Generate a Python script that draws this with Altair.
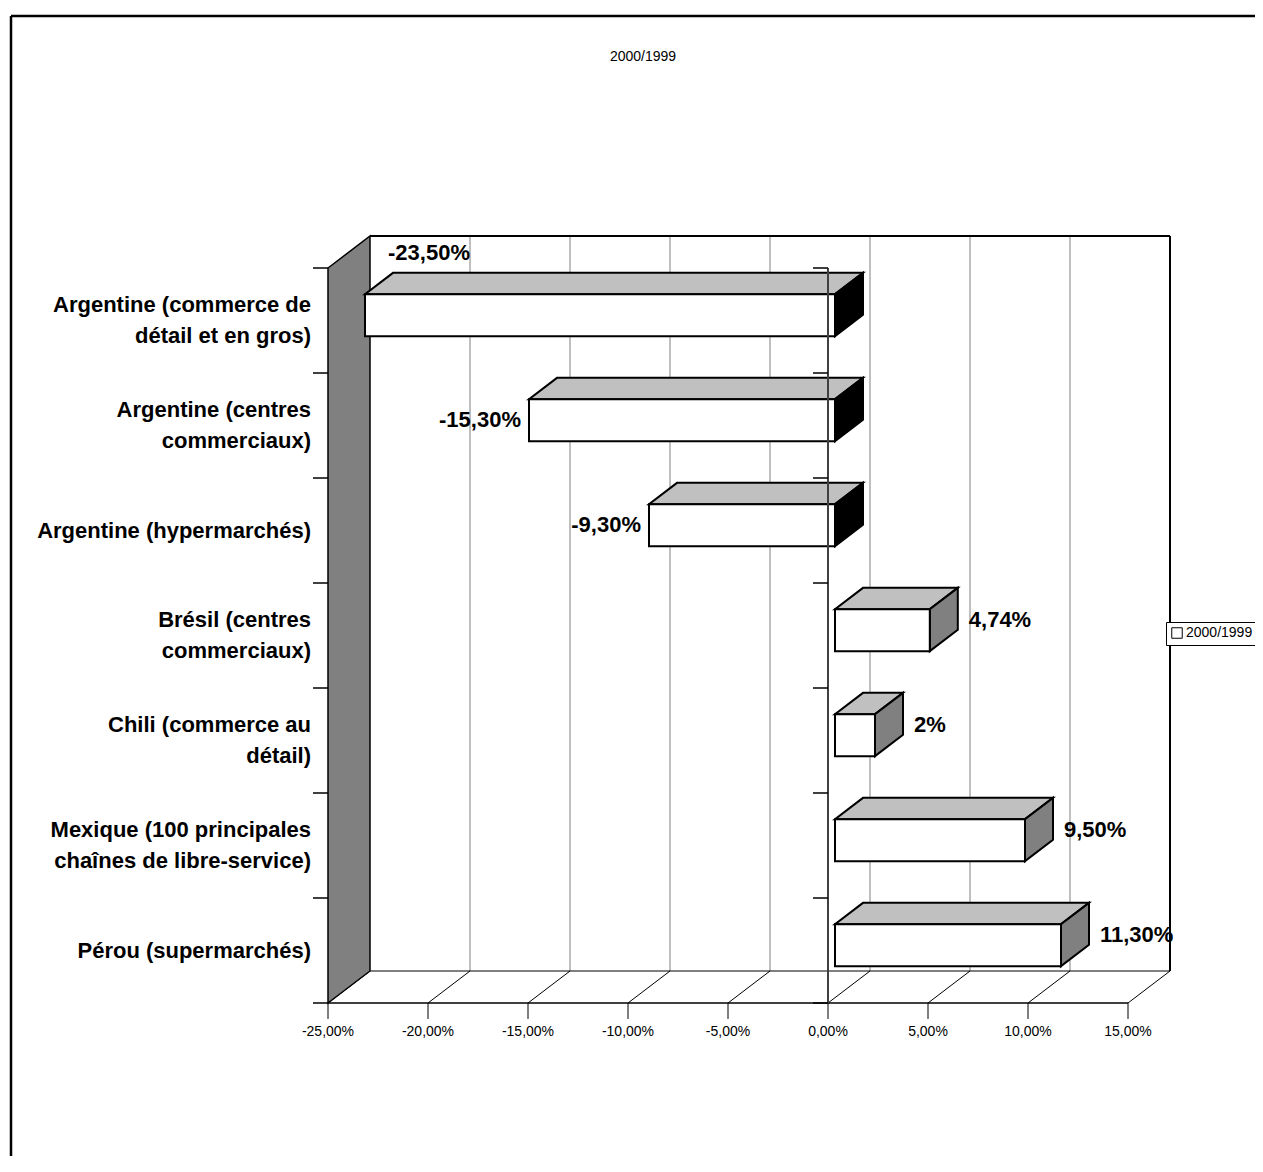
import altair as alt
import pandas as pd

# ---------------- data ----------------
categories = [
    "Argentine (commerce de\ndétail et en gros)",
    "Argentine (centres\ncommerciaux)",
    "Argentine (hypermarchés)",
    "Brésil (centres\ncommerciaux)",
    "Chili (commerce au\ndétail)",
    "Mexique (100 principales\nchaînes de libre-service)",
    "Pérou (supermarchés)",
]
values = [-23.5, -15.3, -9.3, 4.74, 2.0, 9.5, 11.3]
value_labels = ["-23,50%", "-15,30%", "-9,30%", "4,74%", "2%", "9,50%", "11,30%"]
tick_values = [-25, -20, -15, -10, -5, 0, 5, 10, 15]
tick_labels = ["-25,00%", "-20,00%", "-15,00%", "-10,00%", "-5,00%",
               "0,00%", "5,00%", "10,00%", "15,00%"]
series_name = "2000/1999"
title_text = "2000/1999"

# ---------------- geometry ----------------
FONT = "Liberation Sans"
W, H = 1244, 1140
PXU = 20                            # px per percentage point
PXB = 105                           # px per category band
X_DOMAIN = [-40.85, -40.85 + W / PXU]
Y_DOMAIN = [9.4 - H / PXB, 9.4]
DX = 42 / PXU                       # depth offset in x units
DU = 32 / PXB                       # depth offset in band units
F0, F1 = 1 / 6, 5 / 6               # bar depth fraction (front, back)
HALF = 0.2                          # half bar thickness (band units)
LINE_H = 31
n = len(categories)
XMIN, XMAX = tick_values[0], tick_values[-1]

xs = alt.Scale(domain=X_DOMAIN, nice=False, zero=False)
ys = alt.Scale(domain=Y_DOMAIN, nice=False, zero=False)


def X(f):
    return alt.X(f, type="quantitative", scale=xs, axis=None)


def Y(f):
    return alt.Y(f, type="quantitative", scale=ys, axis=None, stack=None)


# bars
front_rows, top_rows, side_rows, lab_rows, cat_rows = [], [], [], [], []
for i, (cat, v, lab) in enumerate(zip(categories, values, value_labels)):
    c = n - 0.5 - i
    x0, x1 = min(0, v), max(0, v)
    xf0, xf1 = x0 + DX * F0, x1 + DX * F0
    xb0, xb1 = x0 + DX * F1, x1 + DX * F1
    uTf, uBf = c + HALF + DU * F0, c - HALF + DU * F0
    uTb, uBb = c + HALF + DU * F1, c - HALF + DU * F1
    front_rows.append(dict(xf0=xf0, xf1=xf1, uTf=uTf, uBf=uBf, series=series_name))
    for (xx, lo, hi) in [(xf0, uTf, uTf), (xb0, uTf, uTb), (xf1, uTf, uTb), (xb1, uTb, uTb)]:
        top_rows.append(dict(id=i, x=xx, y=lo, y2=hi))
    sign = "neg" if v < 0 else "pos"
    for (xx, lo, hi) in [(xf1, uBf, uTf), (xb1, uBb, uTb)]:
        side_rows.append(dict(id=i, x=xx, y=lo, y2=hi, sign=sign))
    if v < 0 and v > XMIN + 5:
        lab_rows.append(dict(text=lab, lx=xf0 - 0.4, ly=c + 0.048, al="right"))
    elif v < 0:
        lab_rows.append(dict(text=lab, lx=xb0 - 0.25, ly=uTb + 0.19, al="left"))
    else:
        lab_rows.append(dict(text=lab, lx=xb1 + 0.55, ly=c + 0.143, al="left"))
    nlines = cat.count("\n") + 1
    cat_rows.append(dict(text=cat, lx=XMIN - 0.85,
                         ly=c + (nlines - 1) * LINE_H / 2 / PXB))

front_df = pd.DataFrame(front_rows)
top_df = pd.DataFrame(top_rows)
side_df = pd.DataFrame(side_rows)
lab_df = pd.DataFrame(lab_rows)
cat_df = pd.DataFrame(cat_rows)

# walls / floor
grid_df = pd.DataFrame({"x": [t + DX for t in tick_values[1:-1]],
                        "y": [DU] * (len(tick_values) - 2),
                        "y2": [n + DU] * (len(tick_values) - 2)})
diag_df = pd.DataFrame({"x": tick_values, "y": [0] * len(tick_values),
                        "x2": [t + DX for t in tick_values], "y2": [DU] * len(tick_values)})
edge_df = pd.DataFrame({
    "x": [XMIN + DX, XMAX + DX, XMIN, XMIN + DX],
    "x2": [XMAX + DX, XMAX + DX, XMAX, XMAX + DX],
    "y": [n + DU, DU, 0, DU],
    "y2": [n + DU, n + DU, 0, DU],
    "w": [2, 2, 1.5, 1],
})
wall_df = pd.DataFrame({"x": [XMIN, XMIN + DX], "y": [0, DU], "y2": [n, n + DU]})
catticks = list(range(n + 1))
tickL_df = pd.DataFrame({"x": [XMIN - 0.75] * (n + 1), "x2": [XMIN] * (n + 1), "y": catticks})
tick0_df = pd.DataFrame({"x": [-0.75] * (n + 1), "x2": [0] * (n + 1), "y": catticks})
zero_df = pd.DataFrame({"x": [0], "y": [0], "y2": [n]})
xt_df = pd.DataFrame({"x": tick_values, "lab": tick_labels,
                      "y": [0] * len(tick_values), "y2": [-0.152] * len(tick_values),
                      "ly": [-0.276] * len(tick_values)})

layers = []
one = pd.DataFrame({"a": [0]})
# outer border (left + top)
layers.append(alt.Chart(one).mark_rule(color="black", strokeWidth=2.5)
              .encode(x=alt.value(0), y=alt.value(0), y2=alt.value(H)))
layers.append(alt.Chart(one).mark_rule(color="black", strokeWidth=2.5)
              .encode(x=alt.value(0), x2=alt.value(W), y=alt.value(0)))
# back wall gridlines
layers.append(alt.Chart(grid_df).mark_rule(color="#808080", strokeWidth=1)
              .encode(x=X("x"), y=Y("y"), y2=alt.Y2("y2")))
# floor diagonals
layers.append(alt.Chart(diag_df).mark_rule(color="black", strokeWidth=1)
              .encode(x=X("x"), x2=alt.X2("x2"), y=Y("y"), y2=alt.Y2("y2")))
# edges
layers.append(alt.Chart(edge_df).mark_rule(color="black")
              .encode(x=X("x"), x2=alt.X2("x2"), y=Y("y"), y2=alt.Y2("y2"),
                      strokeWidth=alt.StrokeWidth("w:Q", scale=None)))
# left wall
layers.append(alt.Chart(wall_df).mark_area(orient="vertical", fill="#808080", stroke="black",
                                           strokeWidth=1.5, opacity=1)
              .encode(x=X("x"), y=Y("y"), y2=alt.Y2("y2")))
# category ticks
layers.append(alt.Chart(tickL_df).mark_rule(color="black", strokeWidth=1.5)
              .encode(x=X("x"), x2=alt.X2("x2"), y=Y("y")))
# bars: top faces
layers.append(alt.Chart(top_df).mark_area(orient="vertical", fill="#C0C0C0", stroke="black",
                                          strokeWidth=2, strokeJoin="miter", opacity=1)
              .encode(x=X("x"), y=Y("y"), y2=alt.Y2("y2"), detail="id:N"))
# side faces
layers.append(alt.Chart(side_df[side_df.sign == "neg"]).mark_area(
    orient="vertical", fill="black", stroke="black", strokeWidth=2, strokeJoin="miter", opacity=1)
    .encode(x=X("x"), y=Y("y"), y2=alt.Y2("y2"), detail="id:N"))
layers.append(alt.Chart(side_df[side_df.sign == "pos"]).mark_area(
    orient="vertical", fill="#808080", stroke="black", strokeWidth=2, strokeJoin="miter", opacity=1)
    .encode(x=X("x"), y=Y("y"), y2=alt.Y2("y2"), detail="id:N"))
# front faces (with legend)
layers.append(alt.Chart(front_df).mark_rect(stroke="black", strokeWidth=2, opacity=1)
              .encode(x=X("xf0"), x2=alt.X2("xf1"), y=Y("uBf"), y2=alt.Y2("uTf"),
                      color=alt.Color("series:N",
                                      scale=alt.Scale(domain=[series_name], range=["white"]),
                                      legend=alt.Legend(title=None, orient="none",
                                                        legendX=1155, legendY=606,
                                                        symbolType="square", symbolSize=110,
                                                        symbolStrokeColor="black",
                                                        symbolStrokeWidth=1,
                                                        symbolOpacity=1,
                                                        labelFont=FONT, labelFontSize=14,
                                                        labelColor="black", labelOffset=2,
                                                        strokeColor="black", fillColor="white",
                                                        padding=4))))
# zero axis on front plane
layers.append(alt.Chart(zero_df).mark_rule(color="#404040", strokeWidth=2)
              .encode(x=X("x"), y=Y("y"), y2=alt.Y2("y2")))
layers.append(alt.Chart(tick0_df).mark_rule(color="black", strokeWidth=1.5)
              .encode(x=X("x"), x2=alt.X2("x2"), y=Y("y")))
# x ticks + labels
layers.append(alt.Chart(xt_df).mark_rule(color="black", strokeWidth=1)
              .encode(x=X("x"), y=Y("y"), y2=alt.Y2("y2")))
layers.append(alt.Chart(xt_df).mark_text(font=FONT, fontSize=14, color="black", baseline="middle")
              .encode(x=X("x"), y=Y("ly"), text="lab:N"))
# category labels
layers.append(alt.Chart(cat_df).mark_text(font=FONT, fontSize=22, fontWeight="bold", color="black",
                                          align="right", baseline="middle", lineBreak="\n",
                                          lineHeight=LINE_H)
              .encode(x=X("lx"), y=Y("ly"), text="text:N"))
# value labels
for al in ["left", "right"]:
    sub = lab_df[lab_df.al == al]
    layers.append(alt.Chart(sub).mark_text(font=FONT, fontSize=22, fontWeight="bold",
                                           color="black", align=al, baseline="middle")
                  .encode(x=X("lx"), y=Y("ly"), text="text:N"))
# title
layers.append(alt.Chart(pd.DataFrame({"t": [title_text]}))
              .mark_text(font=FONT, fontSize=14, color="black", baseline="middle")
              .encode(x=alt.value(632), y=alt.value(41), text="t:N"))

chart = (alt.layer(*layers)
         .properties(width=W, height=H, autosize="none",
                     padding={"left": 3, "top": 8, "right": 0, "bottom": 0},
                     background="white")
         .configure_view(stroke=None))

chart.save("out.html", embed_options={"renderer": "svg", "actions": False})
